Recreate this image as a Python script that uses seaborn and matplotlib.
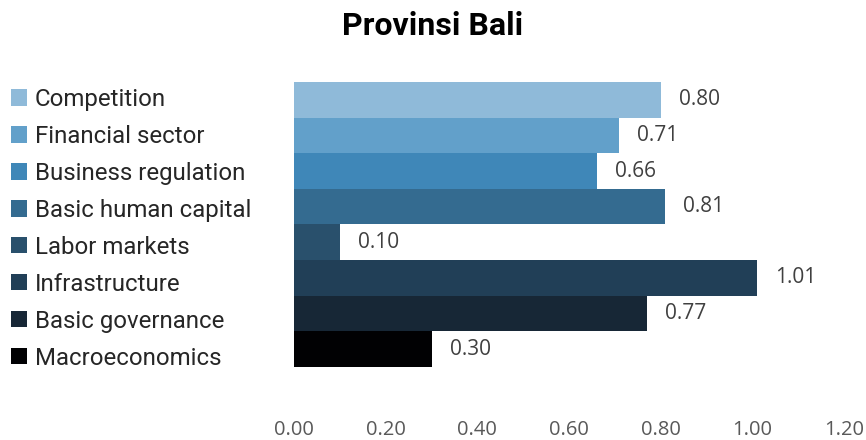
import matplotlib
matplotlib.use("Agg")
import matplotlib.pyplot as plt
import seaborn as sns
import pandas as pd

categories = ["Competition", "Financial sector", "Business regulation",
              "Basic human capital", "Labor markets", "Infrastructure",
              "Basic governance", "Macroeconomics"]
values = [0.80, 0.71, 0.66, 0.81, 0.10, 1.01, 0.77, 0.30]
colors = ["#8FBAD9", "#62A0CA", "#3F87B8", "#346B90",
          "#29506C", "#213F57", "#172736", "#010103"]
x_ticks = [0.0, 0.2, 0.4, 0.6, 0.8, 1.0, 1.2]

df = pd.DataFrame({"pillar": categories, "score": values})

sns.set_theme(style="white")
plt.rcParams["font.family"] = ["Roboto", "DejaVu Sans"]

W, H = 866, 440
fig = plt.figure(figsize=(W / 100, H / 100), dpi=100)
ax = fig.add_axes([294 / W, 1 - 367 / H, (844 - 294) / W, (367 - 82) / H])

sns.barplot(data=df, x="score", y="pillar", hue="pillar", palette=colors,
            order=categories, hue_order=categories, width=1.0,
            orient="h", legend=True, ax=ax, saturation=1.0,
            linewidth=0, edgecolor="none")

ax.set_xlim(0, 1.2)
ax.set_ylim(7.5, -0.5)
ax.set_xticks(x_ticks)
ax.set_xticklabels([f"{t:.2f}" for t in x_ticks], fontfamily="Open Sans",
                   fontsize=14.5, color="#595959")
ax.tick_params(axis="x", length=0, pad=38)
ax.set_yticks([])
ax.set_xlabel("")
ax.set_ylabel("")
for s in ax.spines.values():
    s.set_visible(False)

for i, v in enumerate(values):
    ax.annotate(f"{v:.2f}", xy=(v, i), xytext=(13, 0),
                textcoords="offset points", ha="left", va="center",
                fontfamily="Open Sans", fontsize=15, color="#404040")

handles, labels = ax.get_legend_handles_labels()
ax.legend_.remove()
fig.legend(handles, labels, loc="upper left",
           bbox_to_anchor=(11 / W, 1 - 88 / H), frameon=False,
           fontsize=17.3, handlelength=0.67, handleheight=0.67,
           handletextpad=0.33, labelspacing=0.58, borderaxespad=0,
           borderpad=0)

fig.text(0.5, 1 - 26 / H, "Provinsi Bali", ha="center", va="center",
         fontsize=23, fontweight="bold", color="#000000")

fig.savefig("out.png", dpi=100)
